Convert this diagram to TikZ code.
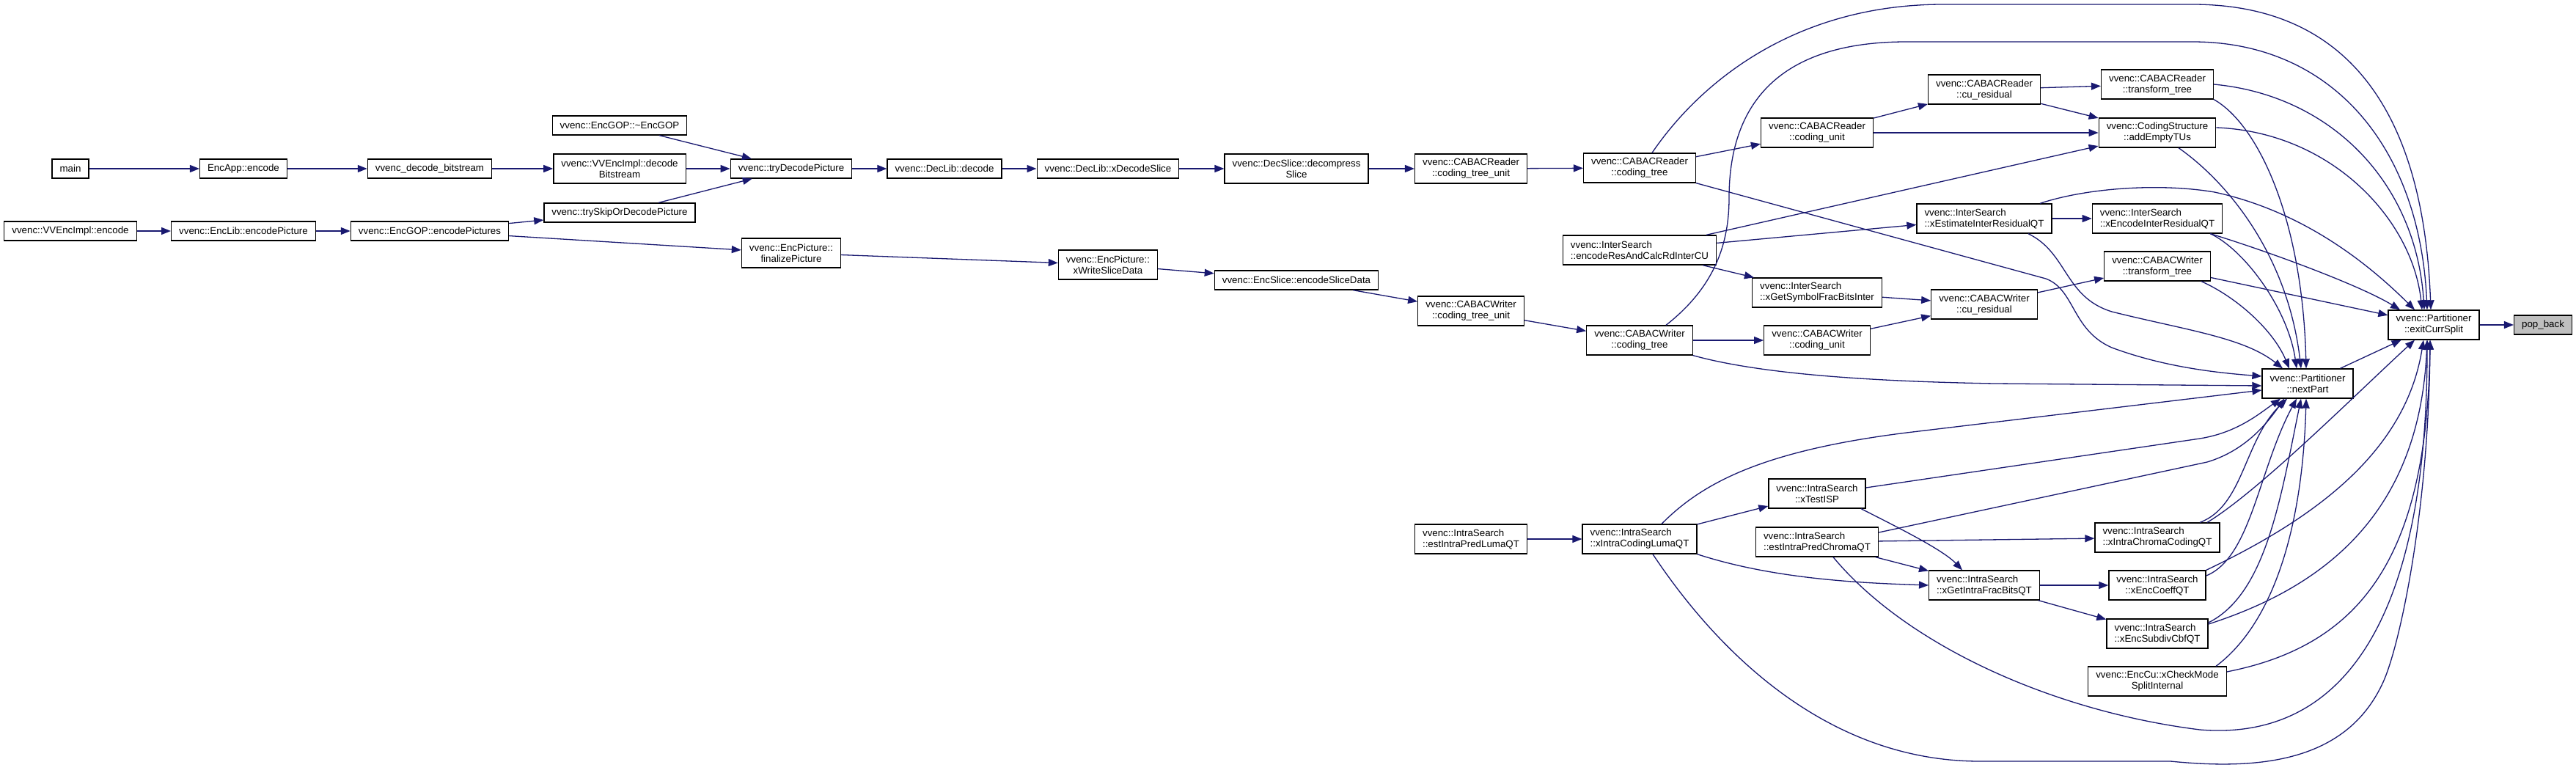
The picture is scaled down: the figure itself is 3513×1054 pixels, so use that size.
\documentclass[tikz,border=0pt]{standalone}
\usepackage{fontspec}
\setmainfont{Liberation Sans}
\usetikzlibrary{arrows.meta}
\definecolor{dxNavy}{RGB}{25,25,112}
\definecolor{dxGray}{RGB}{191,191,191}

\begin{document}
\begin{tikzpicture}[x=1pt,y=-1pt,
  func/.style={draw=black, line width=1.3pt, fill=white, inner xsep=10.5pt, inner ysep=5pt,
    minimum height=26pt, align=center, font=\fontsize{13.33}{15}\selectfont},
  func2/.style={func, minimum height=40pt},
  funcl/.style={func2, align=left},
  callarr/.style={draw=dxNavy, line width=1.3pt, -{Triangle[length=13pt,width=10pt]}}]
\useasboundingbox (0,0) rectangle (3513,1054);

% decoder side
\node[func] (main) at (96,230) {main};
\node[func] (encapp) at (332,230) {EncApp::encode};
\node[func] (decbs) at (586,230) {vvenc\_decode\_bitstream};
\node[func] (gopdtor) at (845,171) {vvenc::EncGOP::\textasciitilde EncGOP};
\node[func2] (impldec) at (845,230) {vvenc::VVEncImpl::decode\\Bitstream};
\node[func] (tryskip) at (845,290) {vvenc::trySkipOrDecodePicture};
\node[func] (trydec) at (1079,230) {vvenc::tryDecodePicture};
\node[func] (decode) at (1288,230) {vvenc::DecLib::decode};
\node[func] (xdecslice) at (1511,230) {vvenc::DecLib::xDecodeSlice};
\node[func2] (decompr) at (1768,230) {vvenc::DecSlice::decompress\\Slice};
\node[func2] (rctu) at (2006,230) {vvenc::CABACReader\\::coding\_tree\_unit};
\node[func2] (rct) at (2236,229) {vvenc::CABACReader\\::coding\_tree};
\node[func2] (rcu) at (2478,181) {vvenc::CABACReader\\::coding\_unit};
\node[func2] (rres) at (2706,122) {vvenc::CABACReader\\::cu\_residual};
\node[func2] (rtt) at (2942,115) {vvenc::CABACReader\\::transform\_tree};
\node[func2] (addtu) at (2942,181) {vvenc::CodingStructure\\::addEmptyTUs};

% encoder side
\node[func] (implenc) at (96,315) {vvenc::VVEncImpl::encode};
\node[func] (encpic) at (332,315) {vvenc::EncLib::encodePicture};
\node[func] (encpics) at (586,315) {vvenc::EncGOP::encodePictures};
\node[func2] (finpic) at (1079,345) {vvenc::EncPicture::\\finalizePicture};
\node[func2] (wslice) at (1511,361) {vvenc::EncPicture::\\xWriteSliceData};
\node[func] (encslice) at (1768,382) {vvenc::EncSlice::encodeSliceData};
\node[func2] (wctu) at (2006,424) {vvenc::CABACWriter\\::coding\_tree\_unit};
\node[func2] (wct) at (2236,464) {vvenc::CABACWriter\\::coding\_tree};
\node[func2] (wcu) at (2478,464) {vvenc::CABACWriter\\::coding\_unit};
\node[func2] (wres) at (2706,415) {vvenc::CABACWriter\\::cu\_residual};
\node[func2] (wtt) at (2942,363) {vvenc::CABACWriter\\::transform\_tree};
\node[funcl] (rdinter) at (2236,341) {vvenc::InterSearch\\::encodeResAndCalcRdInterCU};
\node[funcl] (xest) at (2706,298) {vvenc::InterSearch\\::xEstimateInterResidualQT};
\node[funcl] (xgetsym) at (2478,399) {vvenc::InterSearch\\::xGetSymbolFracBitsInter};
\node[funcl] (xencinter) at (2942,298) {vvenc::InterSearch\\::xEncodeInterResidualQT};

% intra search
\node[funcl] (lumaqt) at (2006,735) {vvenc::IntraSearch\\::estIntraPredLumaQT};
\node[funcl] (xluma) at (2236,735) {vvenc::IntraSearch\\::xIntraCodingLumaQT};
\node[func2] (xisp) at (2478,673) {vvenc::IntraSearch\\::xTestISP};
\node[funcl] (chromaqt) at (2478,739) {vvenc::IntraSearch\\::estIntraPredChromaQT};
\node[funcl] (xgetintra) at (2706,798) {vvenc::IntraSearch\\::xGetIntraFracBitsQT};
\node[funcl] (xchroma) at (2942,733) {vvenc::IntraSearch\\::xIntraChromaCodingQT};
\node[func2] (xcoeff) at (2942,798) {vvenc::IntraSearch\\::xEncCoeffQT};
\node[funcl] (xsubdiv) at (2942,864) {vvenc::IntraSearch\\::xEncSubdivCbfQT};
\node[func2] (splitint) at (2942,929) {vvenc::EncCu::xCheckMode\\SplitInternal};

% partitioner
\node[func2] (nextpart) at (3147,523) {vvenc::Partitioner\\::nextPart};
\node[func2] (ecs) at (3319,443) {vvenc::Partitioner\\::exitCurrSplit};
\node[func, fill=dxGray] (popback) at (3468,443) {pop\_back};

\foreach \a/\b in {main/encapp, encapp/decbs, decbs/impldec, impldec/trydec, gopdtor/trydec,
  tryskip/trydec, trydec/decode, decode/xdecslice, xdecslice/decompr, decompr/rctu, rctu/rct,
  implenc/encpic, encpic/encpics, encpics/tryskip, encpics/finpic, finpic/wslice,
  wslice/encslice, encslice/wctu, wctu/wct, rct/rcu, rcu/rres, rcu/addtu, rres/rtt,
  rres/addtu, rdinter/addtu, rdinter/xest, rdinter/xgetsym, xest/xencinter, xgetsym/wres,
  wct/wcu, wcu/wres, wres/wtt, wtt/ecs, lumaqt/xluma, xluma/xisp, chromaqt/xchroma,
  chromaqt/xgetintra, xgetintra/xcoeff, xgetintra/xsubdiv, nextpart/ecs, ecs/popback}
{
\draw[callarr] (\a) -- (\b);
}

% arcs into exitCurrSplit from above
\draw[callarr] ([xshift=17pt]rct.north) .. controls (2320,110) and (2450,6) .. (2650,6) -- (2990,6) .. controls (3200,6) and (3305,150) .. ([xshift=-4pt]ecs.north);
\draw[callarr] ([xshift=36pt]wct.north) .. controls (2340,390) and (2358,330) .. (2358,270) .. controls (2358,120) and (2450,57) .. (2600,57) -- (2990,57) .. controls (3180,57) and (3300,200) .. ([xshift=-9pt]ecs.north);
\draw[callarr] (rtt.east) .. controls (3180,130) and (3295,250) .. ([xshift=-13pt]ecs.north);
\draw[callarr] ([yshift=7pt]addtu.east) .. controls (3180,180) and (3290,300) .. ([xshift=-16pt]ecs.north);
\draw[callarr] ([xshift=76pt]xest.north) .. controls (2850,255) and (2950,250) .. (3020,262) .. controls (3150,290) and (3240,370) .. ([xshift=-26pt]ecs.north);
\draw[callarr] ([xshift=-17pt]xencinter.south east) .. controls (3100,345) and (3220,390) .. ([xshift=-46pt]ecs.north);

% into nextPart from above and left
\draw[callarr] (rct.south east) -- (2790,380) .. controls (2830,395) and (2825,450) .. (2880,474) .. controls (2950,500) and (3020,508) .. ([yshift=10pt]nextpart.west);
\draw[callarr] (wct.south east) .. controls (2400,510) and (2550,520) .. (2720,523) -- ([yshift=-3pt]nextpart.west);
\draw[callarr] ([xshift=30pt]xluma.north) .. controls (2320,660) and (2400,615) .. (2600,590) -- ([yshift=-9pt]nextpart.west);
\draw[callarr] ([xshift=60pt]xest.south) .. controls (2820,345) and (2815,405) .. (2880,425) .. controls (2980,450) and (3060,460) .. ([xshift=-34pt]nextpart.north);
\draw[callarr] (rtt.south east) .. controls (3080,170) and (3140,300) .. ([xshift=-2pt]nextpart.north);
\draw[callarr] ([xshift=29pt]addtu.south) .. controls (3040,250) and (3120,350) .. ([xshift=-9pt]nextpart.north);
\draw[callarr] ([xshift=-17pt]xencinter.south east) .. controls (3060,340) and (3120,420) .. ([xshift=-15pt]nextpart.north);
\draw[callarr] ([xshift=60pt]wtt.south) .. controls (3050,405) and (3100,450) .. ([xshift=-25pt]nextpart.north);

% into nextPart from below
\draw[callarr] ([yshift=8pt]xisp.east) -- (3000,598) .. controls (3050,590) and (3080,565) .. ([xshift=-37pt]nextpart.south);
\draw[callarr] ([yshift=13pt]chromaqt.east) -- (3010,630) .. controls (3060,615) and (3090,580) .. ([xshift=-32pt]nextpart.south);
\draw[callarr] ([xshift=58pt]xchroma.north) .. controls (3060,690) and (3060,600) .. ([xshift=-28pt]nextpart.south);
\draw[callarr] ([yshift=13pt]xcoeff.east) .. controls (3070,760) and (3080,640) .. ([xshift=-15pt]nextpart.south);
\draw[callarr] ([yshift=15pt]xsubdiv.east) .. controls (3090,810) and (3110,680) .. ([xshift=-9pt]nextpart.south);
\draw[callarr] ([xshift=80pt]splitint.north) .. controls (3100,850) and (3140,720) .. ([xshift=-2pt]nextpart.south);

% into exitCurrSplit from below
\draw[callarr] ([xshift=68pt]xchroma.north) .. controls (3080,670) and (3210,540) .. ([xshift=-26pt]ecs.south);
\draw[callarr] (xcoeff.north east) .. controls (3150,710) and (3280,620) .. ([xshift=-14pt]ecs.south);
\draw[callarr] ([yshift=13pt]xsubdiv.east) .. controls (3170,800) and (3300,700) .. ([xshift=-9pt]ecs.south);
\draw[callarr] ([yshift=13pt]splitint.east) .. controls (3220,880) and (3310,760) .. ([xshift=-5pt]ecs.south);
\draw[callarr] ([xshift=22pt]chromaqt.south) .. controls (2600,880) and (2800,970) .. (3000,995) .. controls (3180,1010) and (3310,870) .. ([xshift=-9pt]ecs.south);
\draw[callarr] ([xshift=18pt]xluma.south) .. controls (2350,900) and (2500,1038) .. (2700,1038) -- (2960,1038) .. controls (3080,1050) and (3200,1040) .. (3250,930) .. controls (3272,882) and (3312,700) .. ([xshift=-5pt]ecs.south);

% intra helpers
\draw[callarr] ([xshift=60pt]xisp.south) .. controls (2590,720) and (2650,750) .. ([xshift=-30pt]xgetintra.north);
\draw[callarr] (xluma.south east) .. controls (2420,790) and (2540,795) .. (xgetintra.west);
\end{tikzpicture}
\end{document}
